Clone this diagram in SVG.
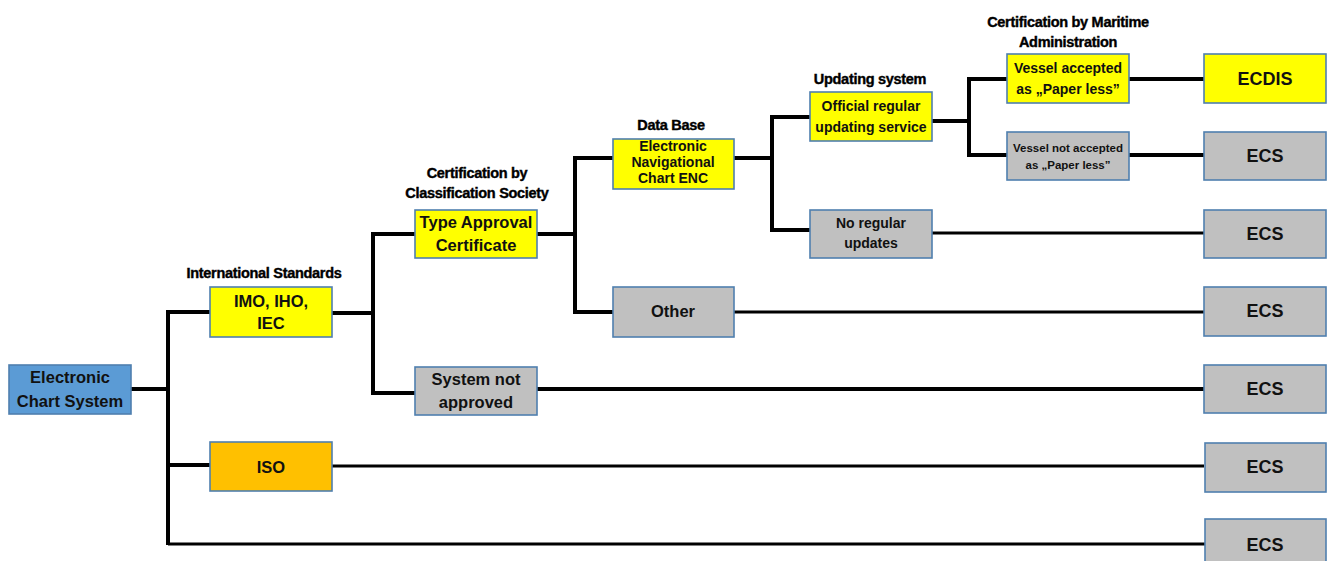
<svg xmlns="http://www.w3.org/2000/svg" width="1327" height="561" viewBox="0 0 1327 561">
<style>
.n{stroke:#4f7fae;stroke-width:1.6}
.y{fill:#ffff00}.g{fill:#c0c0c0}.o{fill:#ffc000}.b{fill:#5b9bd5}
text{font-family:"Liberation Sans",Arial,sans-serif;font-weight:bold;fill:#111;text-anchor:middle}
.t{font-size:16.5px}.s{font-size:14px}.xs{font-size:11.5px}.big{font-size:18px}
.lab{font-size:14.5px;letter-spacing:-0.3px;fill:#000;stroke:#000;stroke-width:0.4}
.c path{fill:none;stroke:#000;stroke-width:4;stroke-linejoin:miter}
.c path.l{stroke-width:3.2}
</style>
<rect width="1327" height="561" fill="#fff"/>
<g id="connectors" class="c">
<path d="M131 389H168"/>
<path d="M210 312H168V545"/>
<path class="l" d="M168 544H1205"/>
<path d="M168 465H210"/>
<path d="M332 313H373"/>
<path d="M415 234H373V393H415"/>
<path d="M537 234H575"/>
<path d="M613 158H575V312H613"/>
<path d="M734 158H772"/>
<path d="M810 117H772V230H810"/>
<path d="M932 121H969"/>
<path d="M1007 79H969V155H1007"/>
<path d="M1129 79H1204"/>
<path d="M1129 155H1204"/>
<path class="l" d="M932 233H1204"/>
<path class="l" d="M734 312H1204"/>
<path d="M537 389H1204"/>
<path class="l" d="M332 466H1204"/>
</g>
<g id="labels">
<text class="lab" x="264" y="278">International Standards</text>
<text class="lab" x="477" y="178">Certification by</text>
<text class="lab" x="477" y="198">Classification Society</text>
<text class="lab" x="671" y="130">Data Base</text>
<text class="lab" x="870" y="84">Updating system</text>
<text class="lab" x="1068" y="27">Certification by Maritime</text>
<text class="lab" x="1068" y="47">Administration</text>
</g>
<g id="ecs-root"><rect class="n b" x="9" y="365" width="122" height="49"/><text class="t" x="70" y="383">Electronic</text><text class="t" x="70" y="407">Chart System</text></g>
<g id="imo"><rect class="n y" x="210" y="287" width="122" height="50"/><text class="t" x="271" y="307">IMO, IHO,</text><text class="t" x="271" y="329">IEC</text></g>
<g id="iso"><rect class="n o" x="210" y="442" width="122" height="49"/><text class="t" x="271" y="473">ISO</text></g>
<g id="type-approval"><rect class="n y" x="415" y="210" width="122" height="48"/><text class="t" x="476" y="228">Type Approval</text><text class="t" x="476" y="251">Certificate</text></g>
<g id="not-approved"><rect class="n g" x="415" y="367" width="122" height="48"/><text class="t" x="476" y="385">System not</text><text class="t" x="476" y="408">approved</text></g>
<g id="enc"><rect class="n y" x="613" y="139" width="121" height="50"/><text class="s" x="673" y="151">Electronic</text><text class="s" x="673" y="167">Navigational</text><text class="s" x="673" y="183">Chart ENC</text></g>
<g id="other"><rect class="n g" x="613" y="287" width="121" height="50"/><text class="t" x="673" y="317">Other</text></g>
<g id="official"><rect class="n y" x="810" y="92" width="122" height="49"/><text class="s" x="871" y="111">Official regular</text><text class="s" x="871" y="132">updating service</text></g>
<g id="no-regular"><rect class="n g" x="810" y="210" width="122" height="48"/><text class="s" x="871" y="228">No regular</text><text class="s" x="871" y="248">updates</text></g>
<g id="accepted"><rect class="n y" x="1007" y="54" width="122" height="49"/><text class="s" x="1068" y="73">Vessel accepted</text><text class="s" x="1068" y="94">as „Paper less”</text></g>
<g id="not-accepted"><rect class="n g" x="1007" y="132" width="122" height="48"/><text class="xs" x="1068" y="152">Vessel not accepted</text><text class="xs" x="1068" y="169">as „Paper less”</text></g>
<g id="ecdis"><rect class="n y" x="1204" y="54" width="122" height="49"/><text class="big" x="1265" y="85">ECDIS</text></g>
<g id="ecs1"><rect class="n g" x="1204" y="132" width="122" height="48"/><text class="big" x="1265" y="162">ECS</text></g>
<g id="ecs2"><rect class="n g" x="1204" y="210" width="122" height="48"/><text class="big" x="1265" y="240">ECS</text></g>
<g id="ecs3"><rect class="n g" x="1204" y="287" width="122" height="49"/><text class="big" x="1265" y="317">ECS</text></g>
<g id="ecs4"><rect class="n g" x="1204" y="365" width="122" height="48"/><text class="big" x="1265" y="395">ECS</text></g>
<g id="ecs5"><rect class="n g" x="1205" y="443" width="121" height="49"/><text class="big" x="1265" y="473">ECS</text></g>
<g id="ecs6"><rect class="n g" x="1205" y="519" width="121" height="49"/><text class="big" x="1265" y="551">ECS</text></g>
</svg>
